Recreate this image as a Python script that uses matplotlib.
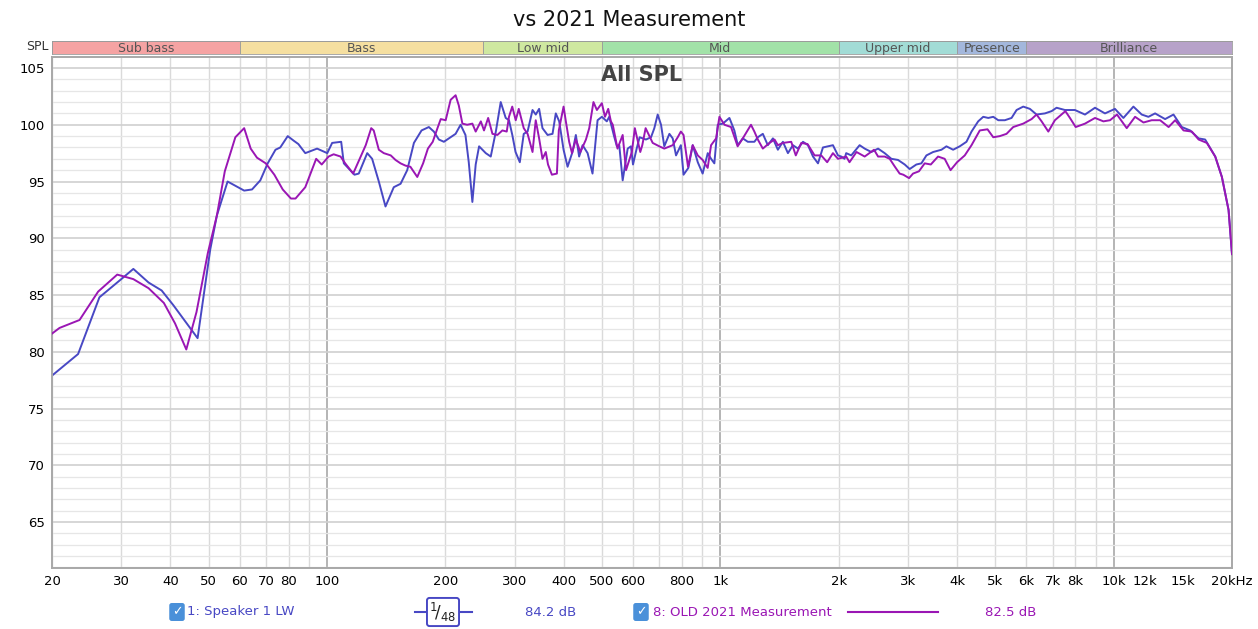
import numpy as np
import matplotlib
matplotlib.use("Agg")
import matplotlib.pyplot as plt
from matplotlib.lines import Line2D

# --- data ---
blue_freq = [20, 23.3, 26.4, 30, 32.2, 35.2, 38.0, 40.7, 46.9, 50.5, 52.5, 55.9, 61.6, 64.5, 67.7,
             70.7, 74, 76.1, 79.5, 82.3, 84.6, 88.1, 94.4, 100.2, 103.1, 108.7, 110.4, 117.5, 120.5,
             126.6, 130.3, 135.5, 140.9, 147.9, 153.9, 160, 166.4, 174, 181.6, 187, 192.6, 198.3,
             206.3, 212.4, 218.7, 225, 229.4, 234.3, 238.9, 243.7, 253.4, 260.9, 268.8, 276.6,
             284.8, 290.3, 296, 301.7, 309.3, 316.5, 323.7, 333.2, 339.6, 346.3, 353.2, 363.9,
             374.6, 381.8, 389.5, 399.6, 409.1, 421, 429.4, 437.7, 446.7, 460, 473.4, 487.6, 500,
             514.7, 522, 537, 546, 553.6, 564.8, 581.6, 592.8, 600, 613, 623.7, 647.2, 666.8,
             679.8, 693.3, 707, 720.6, 742.5, 757, 771.9, 794, 806.6, 829.6, 851, 876.6, 902,
             929.4, 947.6, 966, 985.4, 1015, 1055, 1086, 1108, 1141, 1175, 1221, 1246, 1283,
             1321, 1361, 1401, 1443, 1486, 1530, 1576, 1623, 1671, 1721, 1772, 1824, 1878, 1934,
             1992, 2031, 2070, 2090, 2153, 2261, 2329, 2421, 2519, 2618, 2723, 2831, 2944, 3031,
             3152, 3246, 3343, 3477, 3651, 3758, 3909, 4063, 4226, 4353, 4526, 4662, 4801, 4944,
             5091, 5291, 5503, 5667, 5892, 6126, 6369, 6689, 6956, 7162, 7522, 7973, 8458, 8969,
             9509, 10080, 10590, 11230, 11790, 12260, 12750, 13520, 14200, 14910, 15650, 16450,
             17090, 18130, 18850, 19600, 20000]
blue_spl = [77.9, 79.8, 84.8, 86.4, 87.3, 86.1, 85.4, 84.1, 81.2, 89.0, 92.0, 95.0, 94.2, 94.3, 95.1,
            96.6, 97.8, 98.0, 99.0, 98.6, 98.3, 97.5, 97.9, 97.5, 98.4, 98.5, 96.6, 95.6, 95.7,
            97.5, 97.0, 95.0, 92.8, 94.5, 94.8, 96.0, 98.4, 99.5, 99.8, 99.4, 98.7, 98.5,
            98.9, 99.2, 100.0, 99.1, 96.7, 93.2, 96.5, 98.1, 97.5, 97.2, 99.4, 102.0,
            100.6, 100.4, 99.1, 97.6, 96.7, 99.2, 99.4, 101.3, 100.9, 101.4, 99.7, 99.1,
            99.2, 101.0, 100.3, 97.8, 96.3, 97.6, 99.1, 97.2, 98.2, 97.5, 95.7, 100.4, 100.7,
            100.3, 100.7, 99.0, 98.1, 98.2, 95.1, 97.9, 98.1, 96.5, 97.9, 98.9, 98.7, 98.9,
            99.7, 100.9, 100.0, 98.1, 99.2, 98.8, 97.3, 98.2, 95.6, 96.2, 98.2, 96.7, 95.7,
            97.5, 97.0, 96.6, 100.0, 100.1, 100.6, 99.5, 98.2, 98.8, 98.5, 98.5, 98.9, 99.2,
            98.2, 98.8, 97.8, 98.5, 97.5, 98.2, 97.9, 98.5, 98.2, 97.2, 96.6, 98.0, 98.1, 98.2,
            97.3, 97.2, 97.0, 97.5, 97.3, 98.2, 97.9, 97.6, 97.9, 97.5, 97.0, 96.9, 96.5, 96.1,
            96.5, 96.6, 97.3, 97.6, 97.8, 98.1, 97.8, 98.1, 98.5, 99.4, 100.3, 100.7, 100.6, 100.7,
            100.4, 100.4, 100.6, 101.3, 101.6, 101.4, 100.9, 101.0, 101.2, 101.5, 101.3, 101.3, 100.9, 101.5,
            101.0, 101.4, 100.6, 101.6, 100.9, 100.7, 101.0, 100.5, 100.9, 99.8, 99.5, 98.8,
            98.7, 97.2, 95.4, 92.5, 88.6]

purple_freq = [20, 20.9, 23.5, 26.2, 29.3, 32.2, 35.2, 38.5, 41.1, 43.9, 46.6, 49.8, 52.5, 55.0, 58.5,
               61.6, 64, 66.4, 69.9, 73.5, 77.2, 81.0, 83.2, 88.1, 90.6, 93.9, 97.0, 101, 104, 108.3,
               111.3, 116.6, 119.4, 125.5, 129.6, 131.5, 135.5, 139.5, 145.3, 149.4, 153.9, 158.4,
               163, 169.7, 175.6, 180.6, 185.8, 191, 194.7, 200.4, 206.3, 212.4, 216.4, 221, 227.3,
               234.3, 238.9, 246.2, 250.8, 257, 263.5, 271.2, 279.3, 286.5, 290.3, 295.9, 302,
               307.4, 316.5, 323.7, 333.2, 339.5, 346.3, 353.2, 360.1, 364.8, 373.2, 384.3, 388.6,
               399.6, 405, 412.9, 419.8, 429.4, 441, 455.5, 464.4, 476, 485.7, 500, 509.2, 519,
               527.2, 533, 548, 564.8, 576, 596, 606.5, 626.1, 633.5, 646, 673.3, 700, 720.6, 757,
               779.6, 794, 806.6, 828, 851, 876.6, 902, 929, 947.6, 976, 995, 1025, 1065, 1107,
               1141, 1197, 1221, 1246, 1283, 1334, 1374, 1401, 1443, 1515, 1556, 1607, 1667, 1737,
               1806, 1870, 1934, 1992, 2090, 2131, 2220, 2329, 2460, 2519, 2618, 2696, 2780, 2858,
               2920, 3020, 3091, 3200, 3309, 3430, 3578, 3720, 3850, 4000, 4184, 4353, 4569, 4780,
               4944, 5137, 5343, 5557, 5892, 6187, 6369, 6561, 6824, 7092, 7540, 7745, 8010, 8458,
               8969, 9421, 9793, 10200, 10800, 11340, 11910, 12500, 13130, 13800, 14340, 15060,
               15810, 16450, 17260, 18130, 18850, 19600, 20000]
purple_spl = [81.6, 82.1, 82.8, 85.3, 86.8, 86.4, 85.6, 84.3, 82.5, 80.2, 83.5, 88.7, 92.0, 95.9, 98.9,
              99.7, 97.9, 97.1, 96.6, 95.6, 94.3, 93.5, 93.5, 94.5, 95.6, 97.0, 96.5, 97.2, 97.4, 97.2,
              96.6, 95.7, 96.5, 98.2, 99.7, 99.5, 97.8, 97.5, 97.3, 96.9, 96.6, 96.4,
              96.3, 95.4, 96.6, 97.9, 98.5, 99.7, 100.5, 100.4, 102.2, 102.6, 101.7, 100.1, 100.0,
              100.1, 99.4, 100.3, 99.5, 100.6, 99.2, 99.1, 99.5, 99.4, 100.7, 101.6, 100.4,
              101.4, 99.7, 99.2, 97.6, 100.4, 98.8, 97.0, 97.6, 96.5, 95.6, 95.7, 99.5,
              101.6, 100.3, 98.5, 97.5, 98.7, 97.6, 98.7, 99.7, 102.0, 101.3, 101.9, 100.7, 101.4,
              100.3, 100.0, 97.9, 99.1, 96.0, 97.6, 99.7, 97.6, 98.2, 99.7, 98.4, 98.1, 97.9, 98.2,
              98.9, 99.4, 99.1, 96.3, 98.2, 97.3, 96.9, 96.2, 98.2, 98.8, 100.7, 100.0, 99.8, 98.1,
              98.8, 100.0, 99.4, 98.7, 97.9, 98.4, 98.7, 98.2, 98.4, 98.5, 97.3, 98.4, 98.3, 97.3,
              97.3, 96.7, 97.5, 97.0, 97.2, 96.7, 97.6, 97.2, 97.8, 97.2, 97.2, 97.0, 96.3, 95.7,
              95.6, 95.3, 95.7, 95.9, 96.6, 96.5, 97.2, 97.0, 96.0, 96.7, 97.3, 98.2, 99.5, 99.6,
              98.9, 99.0, 99.2, 99.8, 100.1, 100.5, 100.9, 100.3, 99.4, 100.4, 101.2, 100.6, 99.8, 100.1,
              100.6, 100.3, 100.4, 100.9, 99.7, 100.7, 100.2, 100.4, 100.4, 99.8, 100.4, 99.5,
              99.4, 98.7, 98.4, 97.2, 95.4, 92.5, 88.6]

band_names = ["Sub bass", "Bass", "Low mid", "Mid", "Upper mid", "Presence", "Brilliance"]
band_edges = [20, 60, 250, 500, 2000, 4000, 6000, 20000]
band_colors = ["#f5a3a3", "#f5dfa0", "#cfe8a0", "#a2e2a8", "#a2dcd6", "#a3b7dc", "#b7a2c9"]

xtick_vals = [20, 30, 40, 50, 60, 70, 80, 100, 200, 300, 400, 500, 600, 800,
              1000, 2000, 3000, 4000, 5000, 6000, 7000, 8000, 10000, 12000, 15000, 20000]
xtick_labels = ["20", "30", "40", "50", "60", "70", "80", "100", "200", "300", "400", "500",
                "600", "800", "1k", "2k", "3k", "4k", "5k", "6k", "7k", "8k", "10k", "12k",
                "15k", "20kHz"]
ytick_vals = [65, 70, 75, 80, 85, 90, 95, 100, 105]

blue = "#4848c4"
purple = "#9a16b4"

fig = plt.figure(figsize=(12.58, 6.29), dpi=100)
L, R = 52 / 1258, 1232 / 1258
ax = fig.add_axes([L, 61 / 629, R - L, 511 / 629])
ax.set_xscale("log")
ax.set_xlim(20, 20000)
ax.set_ylim(60.95, 105.97)

# grid, drawn by hand so decades are darker
for dec in [10, 100, 1000, 10000]:
    for k in range(1, 10):
        f = dec * k
        if f < 20 or f > 20000:
            continue
        c, lw = ("#a8a8a8", 1.2) if k == 1 else ("#dadada", 1.0)
        ax.axvline(f, color=c, lw=lw, zorder=0)
for v in range(61, 106):
    c, lw = ("#d0d0d0", 1.2) if v % 5 == 0 else ("#e6e6e6", 0.9)
    ax.axhline(v, color=c, lw=lw, zorder=0)

ax.plot(purple_freq, purple_spl, color=purple, lw=1.4, zorder=3)
ax.plot(blue_freq, blue_spl, color=blue, lw=1.4, zorder=2)

ax.set_xticks(xtick_vals)
ax.set_xticklabels(xtick_labels)
ax.xaxis.set_minor_locator(matplotlib.ticker.NullLocator())
ax.set_yticks(ytick_vals)
ax.tick_params(length=0, labelsize=9.5, pad=5)
for s in ax.spines.values():
    s.set_color("#a8a8a8")
    s.set_linewidth(1.4)

ax.text(0.5, 0.965, "All SPL", transform=ax.transAxes, ha="center", va="center",
        fontsize=15, fontweight="bold", color="#444444")

# frequency band strip
bx = fig.add_axes([L, 575 / 629, R - L, 13 / 629])
bx.set_xscale("log")
bx.set_xlim(20, 20000)
bx.set_ylim(0, 1)
for name, lo, hi, col in zip(band_names, band_edges[:-1], band_edges[1:], band_colors):
    bx.axvspan(lo, hi, color=col, ec="#9a9a9a", lw=0.6)
    bx.text(np.sqrt(lo * hi), 0.45, name, ha="center", va="center", fontsize=9, color="#555555")
bx.set_xticks([])
bx.set_yticks([])
bx.xaxis.set_minor_locator(matplotlib.ticker.NullLocator())
for s in bx.spines.values():
    s.set_color("#9a9a9a")
    s.set_linewidth(0.6)
fig.text(37 / 1258, 1 - 47 / 629, "SPL", ha="center", va="center", fontsize=9, color="#333333")

fig.text(0.5, 1 - 20 / 629, "vs 2021 Measurement", ha="center", va="center", fontsize=15, color="#111111")

# legend row
ly = 1 - 612 / 629
box = dict(boxstyle="round,pad=0.2", fc="#4a90d9", ec="none")
fig.text(177 / 1258, ly, "\u2713", ha="center", va="center", fontsize=9, color="white", bbox=box)
fig.text(187 / 1258, ly, "1: Speaker 1 LW", ha="left", va="center", fontsize=9.5, color=blue)
fig.add_artist(Line2D([415 / 1258, 472 / 1258], [ly, ly], color=blue, lw=1.5))
fig.text(443 / 1258, ly, r"$^{1}\!/_{48}$", ha="center", va="center", fontsize=12, color="#222222",
         bbox=dict(boxstyle="round,pad=0.15", fc="white", ec=blue, lw=1.4))
fig.text(525 / 1258, ly, "84.2 dB", ha="left", va="center", fontsize=9.5, color=blue)
fig.text(641 / 1258, ly, "\u2713", ha="center", va="center", fontsize=9, color="white", bbox=box)
fig.text(653 / 1258, ly, "8: OLD 2021 Measurement", ha="left", va="center", fontsize=9.5, color=purple)
fig.add_artist(Line2D([848 / 1258, 938 / 1258], [ly, ly], color=purple, lw=1.5))
fig.text(985 / 1258, ly, "82.5 dB", ha="left", va="center", fontsize=9.5, color=purple)

fig.savefig("out.png", dpi=100)
